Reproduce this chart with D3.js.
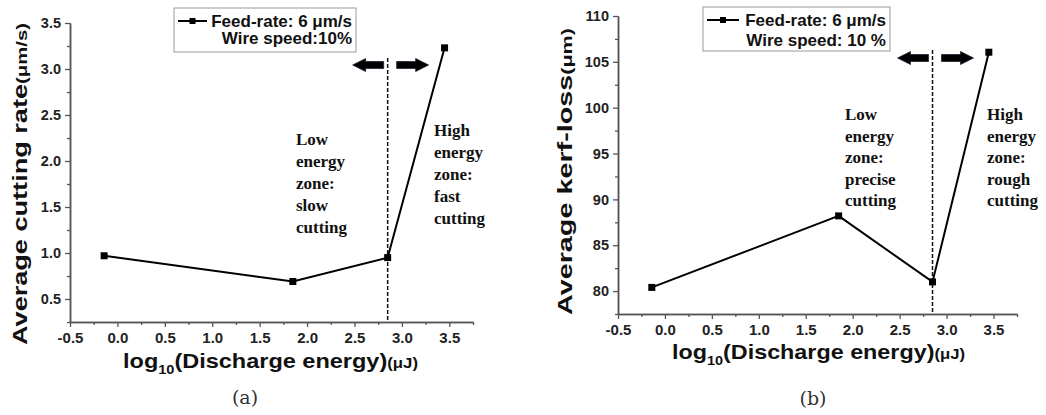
<!DOCTYPE html>
<html>
<head>
<meta charset="utf-8">
<script src="https://cdn.jsdelivr.net/npm/d3@7"></script>
<style>
  html, body { margin: 0; padding: 0; background: #fff; }
  svg { display: block; }
</style>
</head>
<body>
<div id="chart"></div>
<script>
// Data
const energyLog = [-0.14, 1.85, 2.85, 3.45];          // log10(discharge energy)
const cuttingRate = [0.97, 0.69, 0.95, 3.23];         // µm/s, panel (a)
const kerfLoss = [80.4, 88.2, 81.0, 106.05];          // µm, panel (b)
const zoneBoundary = 2.85;

const xTickValues = [-0.5, 0, 0.5, 1, 1.5, 2, 2.5, 3, 3.5];
const rateTickValues = [0.5, 1, 1.5, 2, 2.5, 3, 3.5];
const kerfTickValues = [80, 85, 90, 95, 100, 105, 110];

const lowZoneA = ["Low", "energy", "zone:", "slow", "cutting"];
const highZoneA = ["High", "energy", "zone:", "fast", "cutting"];
const lowZoneB = ["Low", "energy", "zone:", "precise", "cutting"];
const highZoneB = ["High", "energy", "zone:", "rough", "cutting"];

const W = 1046, H = 415;
const SANS = "'Liberation Sans', Arial, sans-serif";
const SERIF = "'Liberation Serif', 'Times New Roman', serif";

const svg = d3.select("#chart").append("svg")
    .attr("width", W)
    .attr("height", H)
    .attr("viewBox", `0 0 ${W} ${H}`);

svg.append("rect").attr("width", W).attr("height", H).attr("fill", "#fff");

function drawPanel(cfg) {
    const g = svg.append("g");

    const x = d3.scaleLinear().domain([-0.5, 3.75]).range(cfg.xRange);
    const y = d3.scaleLinear().domain(cfg.yDomain).range(cfg.yRange);

    const xMinor = d3.range(-0.25, 3.76, 0.5);
    const yStep = cfg.yTicks[1] - cfg.yTicks[0];
    const yMinor = d3.range(cfg.yTicks[0] - yStep / 2, cfg.yDomain[1] + 1e-9, yStep);

    const styleAxis = sel => {
        sel.select(".domain").attr("stroke", "#555").attr("stroke-width", 1.5);
        sel.selectAll(".tick line").attr("stroke", "#555").attr("stroke-width", 1.3);
    };

    // minor ticks
    g.append("g")
        .attr("transform", `translate(0,${cfg.yRange[0]})`)
        .call(d3.axisBottom(x).tickValues(xMinor).tickSize(3).tickSizeOuter(0).tickFormat(""))
        .call(styleAxis);
    g.append("g")
        .attr("transform", `translate(${cfg.xRange[0]},0)`)
        .call(d3.axisLeft(y).tickValues(yMinor).tickSize(3).tickSizeOuter(0).tickFormat(""))
        .call(styleAxis);

    // major ticks
    const xAxis = g.append("g")
        .attr("transform", `translate(0,${cfg.yRange[0]})`)
        .call(d3.axisBottom(x).tickValues(xTickValues).tickSize(5).tickSizeOuter(0)
            .tickFormat(d => d.toFixed(1)))
        .call(styleAxis);
    xAxis.selectAll("text")
        .attr("y", 10)
        .attr("dy", "0.71em")
        .style("font-family", SANS)
        .style("font-size", "15px")
        .style("font-weight", "bold")
        .style("fill", "#222");

    const yAxis = g.append("g")
        .attr("transform", `translate(${cfg.xRange[0]},0)`)
        .call(d3.axisLeft(y).tickValues(cfg.yTicks).tickSize(5).tickSizeOuter(0)
            .tickFormat(cfg.yFormat))
        .call(styleAxis);
    yAxis.selectAll("text")
        .attr("x", -9)
        .style("font-family", SANS)
        .style("font-size", "14.5px")
        .style("font-weight", "bold")
        .style("fill", "#222");

    // zone boundary
    g.append("line")
        .attr("x1", x(zoneBoundary)).attr("x2", x(zoneBoundary))
        .attr("y1", cfg.dashTop).attr("y2", cfg.yRange[0])
        .attr("stroke", "#111")
        .attr("stroke-width", 1.5)
        .attr("stroke-dasharray", "4,2");

    // block arrows either side of the boundary
    const ay = cfg.dashTop + cfg.arrowDy;
    const bx = x(zoneBoundary);
    const arrow = (tip, tail) => {
        const dir = Math.sign(tail - tip);
        const head = 13 * dir;
        return `M${tip},${ay} L${tip + head},${ay - 6.5} L${tip + head},${ay - 3.5}` +
            ` L${tail},${ay - 3.5} L${tail},${ay + 3.5} L${tip + head},${ay + 3.5}` +
            ` L${tip + head},${ay + 6.5} Z`;
    };
    g.append("path").attr("d", arrow(bx - 35, bx - 4)).attr("fill", "#000")
        .attr("stroke", "#223").attr("stroke-width", 0.8);
    g.append("path").attr("d", arrow(bx + 41, bx + 9)).attr("fill", "#000")
        .attr("stroke", "#223").attr("stroke-width", 0.8);

    // series
    const pts = energyLog.map((e, i) => [e, cfg.values[i]]);
    g.append("path")
        .datum(pts)
        .attr("fill", "none")
        .attr("stroke", "#000")
        .attr("stroke-width", 2)
        .attr("d", d3.line().x(d => x(d[0])).y(d => y(d[1])));
    g.selectAll(".pt")
        .data(pts)
        .join("rect")
        .attr("class", "pt")
        .attr("x", d => x(d[0]) - 3.5)
        .attr("y", d => y(d[1]) - 3.5)
        .attr("width", 7)
        .attr("height", 7)
        .attr("fill", "#000");

    // zone notes
    const note = (lines, xPos, y0) => {
        const t = g.append("text")
            .attr("x", xPos)
            .attr("y", y0)
            .style("font-family", SERIF)
            .style("font-size", "17px")
            .style("font-weight", "bold")
            .style("fill", "#111");
        t.selectAll("tspan")
            .data(lines)
            .join("tspan")
            .attr("x", xPos)
            .attr("dy", (d, i) => i === 0 ? 0 : cfg.noteGap)
            .text(d => d);
    };
    note(cfg.lowNote, cfg.lowNoteX, cfg.lowNoteY);
    note(cfg.highNote, cfg.highNoteX, cfg.highNoteY);

    // legend
    const lg = cfg.legend;
    g.append("rect")
        .attr("x", lg.x).attr("y", lg.y)
        .attr("width", lg.w).attr("height", lg.h)
        .attr("fill", "#fff")
        .attr("stroke", "#999")
        .attr("stroke-width", 1);
    g.append("line")
        .attr("x1", lg.x + 4).attr("x2", lg.x + lg.symW)
        .attr("y1", lg.y + 13).attr("y2", lg.y + 13)
        .attr("stroke", "#000").attr("stroke-width", 2);
    g.append("rect")
        .attr("x", lg.x + 4 + (lg.symW - 4) / 2 - 3)
        .attr("y", lg.y + 10)
        .attr("width", 6).attr("height", 6)
        .attr("fill", "#000");
    [lg.line1, lg.line2].forEach((txt, i) => {
        g.append("text")
            .attr("x", lg.x + lg.w - 4)
            .attr("y", lg.y + 19 + i * lg.gap)
            .attr("text-anchor", "end")
            .style("font-family", SANS)
            .style("font-size", "17px")
            .style("font-weight", "bold")
            .style("fill", "#111")
            .text(txt);
    });

    // x title
    const xt = g.append("text")
        .attr("x", cfg.xTitle.x)
        .attr("y", cfg.xTitle.y)
        .attr("textLength", cfg.xTitle.len)
        .attr("lengthAdjust", "spacingAndGlyphs")
        .style("font-family", SANS)
        .style("font-weight", "bold")
        .style("fill", "#111");
    xt.append("tspan").style("font-size", "21px").text("log");
    xt.append("tspan").style("font-size", "13px").attr("dy", 6).text("10");
    xt.append("tspan").style("font-size", "21px").attr("dy", -6).text("(Discharge energy)");
    xt.append("tspan").style("font-size", "15px").text("(μJ)");

    // y title
    const yt = g.append("text")
        .attr("transform", `translate(${cfg.yTitle.x},${cfg.yTitle.y}) rotate(-90)`)
        .attr("textLength", cfg.yTitle.len)
        .attr("lengthAdjust", "spacingAndGlyphs")
        .style("font-family", SANS)
        .style("font-weight", "bold")
        .style("fill", "#111");
    yt.append("tspan").style("font-size", "20px").text(cfg.yTitle.main);
    yt.append("tspan").style("font-size", "15px").text(cfg.yTitle.unit);

    // panel label
    g.append("text")
        .attr("x", cfg.label.x)
        .attr("y", cfg.label.y)
        .attr("text-anchor", "middle")
        .style("font-family", "'DejaVu Serif', serif")
        .style("font-size", "19px")
        .style("fill", "#333")
        .text(cfg.label.text);
}

drawPanel({
    xRange: [70, 473],
    yDomain: [0.25, 3.5],
    yRange: [322, 23],
    yTicks: rateTickValues,
    yFormat: d => d.toFixed(1),
    values: cuttingRate,
    dashTop: 58,
    arrowDy: 7,
    lowNote: lowZoneA, lowNoteX: 296, lowNoteY: 145,
    highNote: highZoneA, highNoteX: 434, highNoteY: 136,
    noteGap: 22,
    legend: { x: 174, y: 8, w: 182, h: 44, symW: 33, gap: 17,
        line1: "Feed-rate: 6 μm/s", line2: "Wire speed:10%" },
    xTitle: { x: 123, y: 368, len: 295 },
    yTitle: { x: 27, y: 345, len: 322, main: "Average cutting rate", unit: "(μm/s)" },
    label: { x: 245, y: 404, text: "(a)" }
});

drawPanel({
    xRange: [618, 1017],
    yDomain: [77.5, 110],
    yRange: [314, 16],
    yTicks: kerfTickValues,
    yFormat: d => d,
    values: kerfLoss,
    dashTop: 50,
    arrowDy: 8,
    lowNote: lowZoneB, lowNoteX: 845, lowNoteY: 120,
    highNote: highZoneB, highNoteX: 987, highNoteY: 120,
    noteGap: 21.5,
    legend: { x: 703, y: 7, w: 187, h: 44, symW: 36, gap: 20,
        line1: "Feed-rate: 6 μm/s", line2: "Wire speed: 10 %" },
    xTitle: { x: 672, y: 359, len: 293 },
    yTitle: { x: 572, y: 315, len: 287, main: "Average kerf-loss", unit: "(μm)" },
    label: { x: 813, y: 405, text: "(b)" }
});
</script>
</body>
</html>
